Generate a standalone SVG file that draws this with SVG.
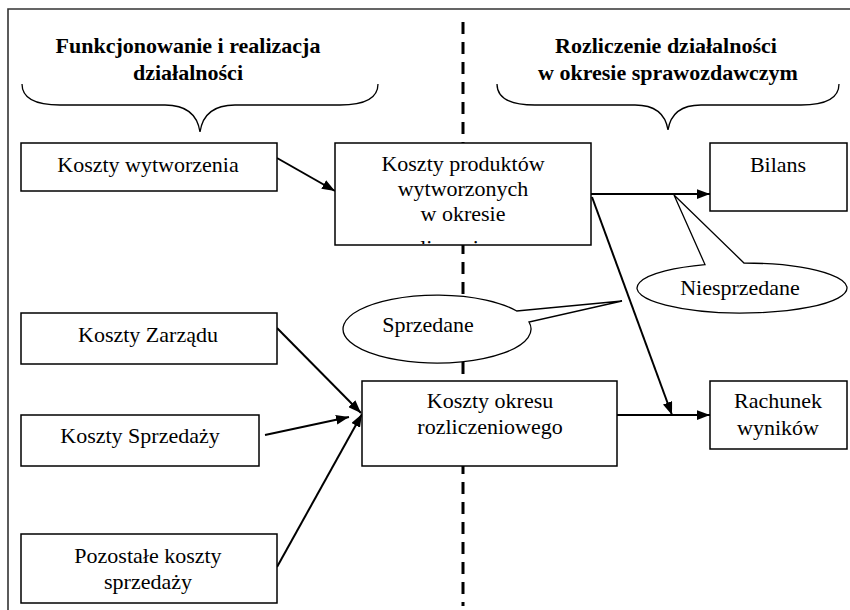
<svg xmlns="http://www.w3.org/2000/svg" width="850" height="610" viewBox="0 0 850 610">
<style>
  .box{fill:#fff;stroke:#000;stroke-width:1.5}
  .t{font-family:'Liberation Serif','Times New Roman',serif;font-size:22px;fill:#000;text-anchor:middle}
  .h{font-family:'Liberation Serif','Times New Roman',serif;font-size:22px;font-weight:bold;fill:#000;text-anchor:middle}
  .arr{fill:none;stroke:#000;stroke-width:2;marker-end:url(#ah)}
  .call{fill:#fff;stroke:#000;stroke-width:1.3}
  .brace{fill:none;stroke:#000;stroke-width:1.3}
</style>
<defs>
  <marker id="ah" viewBox="0 0 12 9" refX="12" refY="4.5" markerWidth="13" markerHeight="10" markerUnits="userSpaceOnUse" orient="auto">
    <path d="M0,0 L12,4.5 L0,9 z" fill="#000"/>
  </marker>
  <clipPath id="clipKP"><rect x="335" y="143" width="256" height="101"/></clipPath>
</defs>
<rect width="850" height="610" fill="#fff"/>
<g id="frame">
  <path d="M8,610 L8,9 L850,9" fill="none" stroke="#333" stroke-width="1.6"/>
  <line x1="463" y1="22" x2="463" y2="606" stroke="#000" stroke-width="3" stroke-dasharray="12 8"/>
</g>
<g id="header-left">
  <text class="h" x="188" y="53">Funkcjonowanie i realizacja</text>
  <text class="h" x="188" y="80">działalności</text>
  <path class="brace" d="M22,84 Q22,105 60,105 L165,105 Q196,105 200,132 Q204,105 235,105 L340,105 Q378,105 378,84"/>
</g>
<g id="header-right">
  <text class="h" x="666" y="53">Rozliczenie działalności</text>
  <text class="h" x="668" y="80">w okresie sprawozdawczym</text>
  <path class="brace" d="M497,84 Q497,105 535,105 L635,105 Q664,105 668,130 Q672,105 701,105 L801,105 Q839,105 839,84"/>
</g>
<g id="connectors">
  <path class="arr" d="M277,158 L335,191"/>
  <path class="arr" d="M591,194 L710,194"/>
  <path class="arr" d="M592,197 L672,415"/>
  <path class="arr" d="M617,415 L710,415"/>
  <path class="arr" d="M277,328 L361,413"/>
  <path class="arr" d="M265,435 L349,417"/>
  <path class="arr" d="M277,567 L362,414"/>
</g>
<g id="koszty-wytworzenia">
  <rect class="box" x="21" y="143" width="256" height="48"/>
  <text class="t" x="148" y="172">Koszty wytworzenia</text>
</g>
<g id="koszty-produktow">
  <rect class="box" x="335" y="143" width="256" height="102"/>
  <g clip-path="url(#clipKP)">
    <text class="t" x="463" y="171">Koszty produktów</text>
    <text class="t" x="463" y="196">wytworzonych</text>
    <text class="t" x="463" y="221">w okresie</text>
    <text class="t" x="463" y="255">rozliczeniowym</text>
  </g>
</g>
<g id="bilans">
  <rect class="box" x="710" y="143" width="137" height="68"/>
  <text class="t" x="778" y="172">Bilans</text>
</g>
<g id="niesprzedane">
  <path class="call" d="M744,263 A105 25 0 1 1 705,264.6 L674,195 Z"/>
  <text class="t" x="740" y="295">Niesprzedane</text>
</g>
<g id="sprzedane">
  <path class="call" d="M529,322 A94 34 0 1 1 516.7,311 L622,301 Z"/>
  <text class="t" x="428" y="332">Sprzedane</text>
</g>
<g id="koszty-zarzadu">
  <rect class="box" x="21" y="313" width="256" height="51"/>
  <text class="t" x="148" y="342">Koszty Zarządu</text>
</g>
<g id="koszty-sprzedazy">
  <rect class="box" x="21" y="415" width="238" height="51"/>
  <text class="t" x="140" y="443">Koszty Sprzedaży</text>
</g>
<g id="pozostale-koszty">
  <rect class="box" x="21" y="534" width="256" height="69"/>
  <text class="t" x="148" y="563">Pozostałe koszty</text>
  <text class="t" x="148" y="589">sprzedaży</text>
</g>
<g id="koszty-okresu">
  <rect class="box" x="362" y="381" width="255" height="85"/>
  <text class="t" x="490" y="408">Koszty okresu</text>
  <text class="t" x="490" y="434">rozliczeniowego</text>
</g>
<g id="rachunek-wynikow">
  <rect class="box" x="710" y="381" width="137" height="68"/>
  <text class="t" x="778" y="408">Rachunek</text>
  <text class="t" x="778" y="435">wyników</text>
</g>
</svg>
